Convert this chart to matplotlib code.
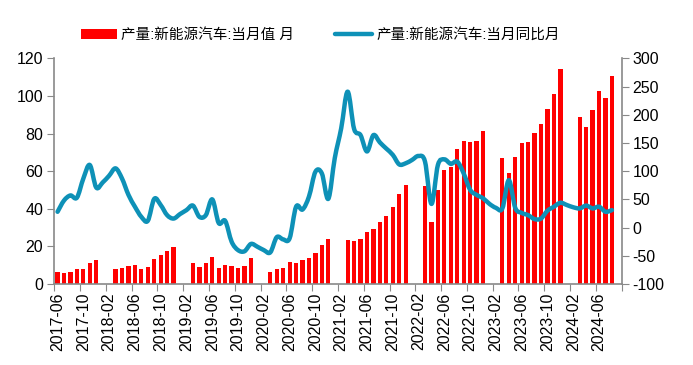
import numpy as np
import pandas as pd
import matplotlib
matplotlib.use("Agg")
import matplotlib.pyplot as plt
from matplotlib.path import Path
from matplotlib.patches import PathPatch, Patch
from matplotlib.lines import Line2D

plt.rcParams['font.family'] = ['Liberation Sans', 'Noto Sans CJK SC', 'DejaVu Sans']
plt.rcParams['axes.unicode_minus'] = False

# months 2017-06 .. 2024-09
months = [str(p) for p in pd.period_range('2017-06', '2024-09', freq='M')]
nan = np.nan

# NEV production, monthly (10k units); Jan/Feb not reported
prod = [6.4, 5.9, 6.4, 8.0, 8.0, 11.2, 12.8,
        nan, nan, 8.0, 8.5, 9.6, 9.9, 8.0, 9.0, 13.3, 15.4, 17.6, 19.7,
        nan, nan, 11.2, 9.0, 11.2, 14.4, 8.5, 10.1, 9.6, 8.5, 9.6, 13.8,
        nan, nan, 6.4, 8.0, 8.5, 11.7, 11.2, 12.8, 13.8, 16.5, 20.7, 23.9,
        nan, nan, 23.4, 22.9, 23.9, 27.7, 29.3, 33.0, 36.2, 41.0, 47.9, 52.7,
        nan, nan, 52.1, 33.0, 50.0, 60.6, 62.2, 71.8, 76.1, 75.5, 76.1, 81.4,
        nan, nan, 67.0, 59.0, 67.6, 75.0, 75.5, 80.3, 85.1, 93.1, 101.1, 114.4,
        nan, nan, 88.8, 83.5, 92.6, 102.7, 98.9, 110.6,
        nan]

# YoY growth (%)
yoy = [28, 48, 57, 53, 87, 111, 71,
       80, 92, 105, 87, 58, 37, 19, 12, 51, 40, 22, 16,
       24, 31, 39, 19, 22, 50, 8, 12, -25, -40, -42, -29,
       -34, -40, -44, -17, -21, -19, 37, 32, 55, 99, 96, 51,
       123, 176, 241, 175, 164, 135, 164, 151, 140, 129, 112, 114,
       120, 127, 117, 42, 111, 121, 113, 117, 96, 67, 58, 52,
       42, 35, 34, 84, 35, 26, 22, 15, 16, 30, 37, 44,
       40, 36, 34, 39, 34, 37, 28, 31,
       nan]

assert len(prod) == len(months) == len(yoy)

bar_color = '#FF0000'
line_color = '#0E91B7'
axis_color = '#898989'

x = np.arange(len(months))

fig = plt.figure(figsize=(6.93, 3.65), dpi=100)
ax = fig.add_axes([0.0784, 0.222, 0.897 - 0.0784, 0.840 - 0.222])
ax2 = ax.twinx()

ax.bar(x, prod, width=0.66, color=bar_color, zorder=2)

# smoothed line (Excel-like bezier through the points)
xs = x[~np.isnan(yoy)].astype(float)
ys = np.array(yoy, dtype=float)[~np.isnan(yoy)]
verts = [(xs[0], ys[0])]
codes = [Path.MOVETO]
for i in range(len(xs) - 1):
    p0 = np.array([xs[max(i - 1, 0)], ys[max(i - 1, 0)]])
    p1 = np.array([xs[i], ys[i]])
    p2 = np.array([xs[i + 1], ys[i + 1]])
    p3 = np.array([xs[min(i + 2, len(xs) - 1)], ys[min(i + 2, len(xs) - 1)]])
    c1 = p1 + (p2 - p0) / 6.0
    c2 = p2 - (p3 - p1) / 6.0
    verts += [tuple(c1), tuple(c2), tuple(p2)]
    codes += [Path.CURVE4] * 3
ax2.add_patch(PathPatch(Path(verts, codes), facecolor='none', edgecolor=line_color,
                        lw=3.2, capstyle='round', joinstyle='round', zorder=3))

ax.set_xlim(-0.5, len(months) - 0.5)
ax.set_ylim(0, 120)
ax.set_yticks(range(0, 121, 20))
ax2.set_ylim(-100, 300)
ax2.set_yticks(range(-100, 301, 50))
ax2.set_yticklabels([str(v) for v in range(-100, 301, 50)])

# x ticks: marks on boundaries every 4 months, labels at centers
ax.set_xticks(np.arange(-0.5, len(months), 4))
ax.set_xticklabels([])
ax.set_xticks(x[::4], minor=True)
ax.set_xticklabels(months[::4], minor=True, rotation=90, fontsize=11.5)
ax.tick_params(axis='x', which='minor', length=0, pad=6)
ax.tick_params(axis='x', which='major', length=5, color=axis_color, direction='out')

ax.tick_params(axis='y', labelsize=11.5, length=5, color=axis_color, pad=3)
ax2.tick_params(axis='y', labelsize=11.5, length=5, color=axis_color, pad=3)

for a in (ax, ax2):
    a.spines['top'].set_visible(False)
    for s in ('left', 'right', 'bottom'):
        a.spines[s].set_color(axis_color)
        a.spines[s].set_linewidth(1.2)
ax.spines['right'].set_visible(False)
ax2.spines['left'].set_visible(False)
ax2.spines['bottom'].set_visible(False)

handles = [Patch(facecolor=bar_color, edgecolor='none'),
           Line2D([0], [0], color=line_color, lw=3.2, solid_capstyle='round')]
labels = ['产量:新能源汽车:当月值 月', '产量:新能源汽车:当月同比月']
fig.legend(handles, labels, loc='center', bbox_to_anchor=(0.462, 0.904), ncol=2,
           frameon=False, fontsize=10.5, handlelength=2.5, handleheight=0.7,
           handletextpad=0.3, columnspacing=2.8)

fig.savefig('out.png', dpi=100)
